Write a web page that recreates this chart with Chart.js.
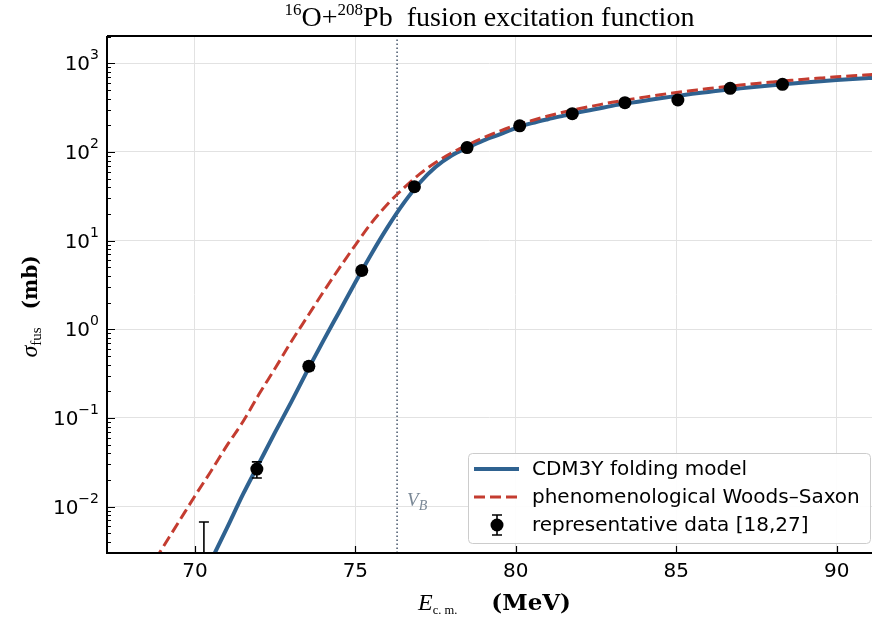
<!DOCTYPE html>
<html lang="en">
<head>
<meta charset="UTF-8">
<title>16O+208Pb fusion excitation function</title>
<script src="https://cdn.jsdelivr.net/npm/chart.js@4.4.1/dist/chart.umd.min.js"></script>
<style>
  body { margin: 0; background: #fff; }
  canvas { display: block; }
</style>
</head>
<body>
<canvas id="fusionChart" width="872" height="622"></canvas>
<script>
  // Curve samples: E_cm (MeV) and sigma_fus (mb)
  const curveE = [68.5, 69.0, 69.5, 70.0, 70.5, 71.0, 71.5, 72.0, 72.5, 73.0, 73.5, 74.0,
    74.5, 75.0, 75.5, 76.0, 76.5, 77.0, 77.5, 78.0, 78.5, 79.0, 79.5, 80.0, 80.5, 81.0,
    81.5, 82.0, 82.5, 83.0, 83.5, 84.0, 84.5, 85.0, 85.5, 86.0, 86.5, 87.0, 87.5, 88.0,
    88.5, 89.0, 89.5, 90.0, 90.5, 91.0, 91.5];

  const cdm3y = [null, null, null, 0.00105, 0.00245, 0.00575, 0.0138, 0.0309, 0.0692, 0.151,
    0.339, 0.741, 1.58, 3.39, 7.08, 14.1, 26.3, 44.7, 67.6, 91.2, 112, 135, 158, 186, 211,
    234, 257, 282, 305, 331, 355, 378, 403, 427, 452, 475, 499, 521, 543, 565, 586, 607,
    627, 646, 664, 681, 698];

  const woodsSaxon = [0.00178, 0.00347, 0.00676, 0.0132, 0.0251, 0.049, 0.0912, 0.186, 0.363,
    0.724, 1.38, 2.63, 4.90, 8.91, 15.8, 25.7, 38.9, 56.2, 75.9, 97.7, 120, 145, 172, 200,
    226, 254, 282, 309, 335, 363, 389, 415, 442, 468, 493, 519, 543, 568, 592, 615, 638,
    661, 682, 703, 723, 741, 759];

  // Representative data [18,27]
  const dataE = [70.28, 71.93, 73.55, 75.2, 76.84, 78.48, 80.12, 81.76, 83.4, 85.05, 86.68, 88.31];
  const dataSigma = [0.0025, 0.0265, 0.383, 4.6, 40.5, 112, 197, 270, 359, 385, 522, 579];
  const dataErr = [0.0042, 0.0055, 0.04, 0.45, 3, 8, 12, 15, 18, 20, 25, 28];

  const barrierE = 76.3;
  const xTicks = [70, 75, 80, 85, 90];
  const yTicks = [0.01, 0.1, 1, 10, 100, 1000];
  const yExponents = ['\u22122', '\u22121', '0', '1', '2', '3'];

  const BLUE = '#2f6290';
  const RED = '#c43c30';

  const toXY = (xs, ys) => xs.map((x, i) => ({ x: x, y: ys[i] }));

  function richText(ctx, parts, x, y, align) {
    let w = 0;
    parts.forEach(p => {
      if (p.gap) { p.w = p.gap; } else { ctx.font = p.font; p.w = ctx.measureText(p.text).width; }
      w += p.w;
    });
    let cx = align === 'center' ? x - w / 2 : (align === 'right' ? x - w : x);
    ctx.textAlign = 'left';
    ctx.textBaseline = 'alphabetic';
    parts.forEach(p => {
      if (!p.gap) { ctx.font = p.font; ctx.fillText(p.text, cx, y + (p.dy || 0)); }
      cx += p.w;
    });
  }

  const decor = {
    id: 'decor',
    afterDatasetsDraw(chart) {
      const ctx = chart.ctx, a = chart.chartArea;
      const xs = chart.scales.x, ys = chart.scales.y;
      ctx.save();
      ctx.beginPath();
      ctx.rect(a.left, a.top, a.right - a.left, a.bottom - a.top);
      ctx.clip();
      ctx.strokeStyle = '#000';
      ctx.lineWidth = 1.6;
      dataE.forEach((e, i) => {
        const px = xs.getPixelForValue(e);
        const hi = ys.getPixelForValue(dataSigma[i] + dataErr[i]);
        const lowV = dataSigma[i] - dataErr[i];
        const lo = lowV > 0 ? ys.getPixelForValue(lowV) : a.bottom + 20;
        ctx.beginPath();
        ctx.moveTo(px, lo); ctx.lineTo(px, hi);
        ctx.moveTo(px - 5, hi); ctx.lineTo(px + 5, hi);
        if (lowV > 0) { ctx.moveTo(px - 5, lo); ctx.lineTo(px + 5, lo); }
        ctx.stroke();
      });
      ctx.restore();
    },
    afterDraw(chart) {
      const ctx = chart.ctx, a = chart.chartArea;
      const xs = chart.scales.x, ys = chart.scales.y;
      ctx.save();

      // V_B label
      ctx.fillStyle = '#7a8896';
      richText(ctx, [
        { text: 'V', font: 'italic 19px "Liberation Serif"' },
        { text: 'B', font: 'italic 14px "Liberation Serif"', dy: 4 }
      ], xs.getPixelForValue(barrierE) + 10, 506, 'left');

      // spines (top, left, bottom)
      ctx.strokeStyle = '#000';
      ctx.lineWidth = 2;
      ctx.beginPath();
      ctx.moveTo(a.left, a.top); ctx.lineTo(a.right, a.top);
      ctx.moveTo(a.left, a.top); ctx.lineTo(a.left, a.bottom);
      ctx.moveTo(a.left - 1, a.bottom); ctx.lineTo(a.right, a.bottom);
      ctx.stroke();

      // inward tick marks
      ctx.lineWidth = 1.2;
      ctx.beginPath();
      xTicks.forEach(v => {
        const px = Math.round(xs.getPixelForValue(v)) + 0.5;
        ctx.moveTo(px, a.bottom); ctx.lineTo(px, a.bottom - 7);
      });
      for (let d = -3; d <= 3; d++) {
        for (let m = 1; m <= 9; m++) {
          const v = m * Math.pow(10, d);
          if (v < ys.min || v > ys.max) continue;
          const py = Math.round(ys.getPixelForValue(v)) + 0.5;
          ctx.moveTo(a.left, py); ctx.lineTo(a.left + (m === 1 ? 8 : 4), py);
        }
      }
      ctx.stroke();

      // y tick labels 10^n
      ctx.fillStyle = '#000';
      yTicks.forEach((v, i) => {
        const py = ys.getPixelForValue(v);
        richText(ctx, [
          { text: '10', font: '20px "DejaVu Sans"' },
          { text: yExponents[i], font: '14px "DejaVu Sans"', dy: -11 }
        ], a.left - 8, py + 7, 'right');
      });

      // title
      richText(ctx, [
        { text: '16', font: '17px "Liberation Serif"', dy: -11 },
        { text: 'O+', font: '28px "Liberation Serif"' },
        { text: '208', font: '17px "Liberation Serif"', dy: -11 },
        { text: 'Pb  fusion excitation function', font: '28px "Liberation Serif"' }
      ], (a.left + a.right) / 2, 26, 'center');

      // x axis label
      richText(ctx, [
        { text: 'E', font: 'italic 24px "Liberation Serif"' },
        { text: 'c. m.', font: '12.5px "Liberation Serif"', dy: 4 },
        { gap: 34 },
        { text: '(MeV)', font: 'bold 23px "DejaVu Serif"' }
      ], (a.left + a.right) / 2 + 5, 610, 'center');

      // y axis label
      ctx.save();
      ctx.translate(37, (a.top + a.bottom) / 2 + 12);
      ctx.rotate(-Math.PI / 2);
      richText(ctx, [
        { text: '\u03c3', font: 'italic 24px "Liberation Serif"' },
        { text: 'fus', font: '15px "Liberation Serif"', dy: 4 },
        { gap: 18 },
        { text: '(mb)', font: 'bold 20px "DejaVu Serif"' }
      ], 0, 0, 'center');
      ctx.restore();

      // legend
      const lx = 468, ly = 453, lw = 402, lh = 90;
      ctx.fillStyle = 'rgba(255,255,255,0.92)';
      ctx.strokeStyle = '#cccccc';
      ctx.lineWidth = 1;
      ctx.beginPath();
      ctx.roundRect(lx + 0.5, ly + 0.5, lw, lh, 4);
      ctx.fill();
      ctx.stroke();
      const rows = [ly + 16, ly + 44, ly + 72];
      const sets = chart.data.datasets.filter(d => d.inLegend);
      sets.forEach((d, i) => {
        const y = rows[i];
        ctx.save();
        if (d.kind === 'line') {
          ctx.strokeStyle = d.borderColor;
          ctx.lineWidth = d.borderWidth;
          ctx.setLineDash(d.borderDash || []);
          ctx.beginPath();
          ctx.moveTo(lx + 6, y); ctx.lineTo(lx + 51, y);
          ctx.stroke();
        } else {
          const cx = lx + 29;
          ctx.strokeStyle = '#000';
          ctx.lineWidth = 1.6;
          ctx.beginPath();
          ctx.moveTo(cx, y - 10); ctx.lineTo(cx, y + 10);
          ctx.moveTo(cx - 5, y - 10); ctx.lineTo(cx + 5, y - 10);
          ctx.moveTo(cx - 5, y + 10); ctx.lineTo(cx + 5, y + 10);
          ctx.stroke();
          ctx.fillStyle = '#000';
          ctx.beginPath();
          ctx.arc(cx, y, 6.5, 0, Math.PI * 2);
          ctx.fill();
        }
        ctx.restore();
        ctx.fillStyle = '#000';
        ctx.font = '20px "DejaVu Sans"';
        ctx.textAlign = 'left';
        ctx.textBaseline = 'middle';
        ctx.fillText(d.label, lx + 64, y + 1);
      });

      ctx.restore();
    }
  };

  new Chart(document.getElementById('fusionChart'), {
    type: 'line',
    data: {
      datasets: [
        {
          label: 'CDM3Y folding model',
          kind: 'line',
          inLegend: true,
          data: toXY(curveE, cdm3y),
          borderColor: BLUE,
          borderWidth: 4,
          pointRadius: 0,
          cubicInterpolationMode: 'monotone',
          order: 2
        },
        {
          label: 'phenomenological Woods\u2013Saxon',
          kind: 'line',
          inLegend: true,
          data: toXY(curveE, woodsSaxon),
          borderColor: RED,
          borderWidth: 3,
          borderDash: [11, 5],
          pointRadius: 0,
          cubicInterpolationMode: 'monotone',
          order: 1
        },
        {
          type: 'scatter',
          label: 'representative data [18,27]',
          kind: 'point',
          inLegend: true,
          data: toXY(dataE, dataSigma),
          backgroundColor: '#000',
          borderWidth: 0,
          pointRadius: 6.5,
          order: 0
        },
        {
          label: 'V_B',
          data: [{ x: barrierE, y: 0.003 }, { x: barrierE, y: 2030 }],
          borderColor: '#46566a',
          borderWidth: 1.5,
          borderDash: [1.5, 2.5],
          pointRadius: 0,
          order: 3
        }
      ]
    },
    options: {
      responsive: false,
      animation: false,
      devicePixelRatio: 1,
      layout: { autoPadding: false, padding: { top: 36, left: 0, right: 0, bottom: 0 } },
      scales: {
        x: {
          type: 'linear',
          min: 67.26,
          max: 91.1,
          afterBuildTicks: s => { s.ticks = xTicks.map(v => ({ value: v })); },
          afterFit: s => { s.height = 69; s.paddingLeft = 0; s.paddingRight = 0; },
          ticks: {
            font: { family: 'DejaVu Sans', size: 20 },
            color: '#000',
            padding: 7,
            maxRotation: 0,
            autoSkip: false
          },
          grid: { color: '#e2e2e2', lineWidth: 1, drawTicks: false },
          border: { display: false }
        },
        y: {
          type: 'logarithmic',
          min: 0.003,
          max: 2030,
          afterBuildTicks: s => { s.ticks = yTicks.map(v => ({ value: v, major: true })); },
          afterFit: s => { s.width = 107; s.paddingTop = 0; s.paddingBottom = 0; },
          ticks: { display: false },
          grid: { color: '#e2e2e2', lineWidth: 1, drawTicks: false },
          border: { display: false }
        }
      },
      plugins: {
        legend: { display: false },
        title: { display: false },
        tooltip: { enabled: false }
      }
    },
    plugins: [decor]
  });
</script>
</body>
</html>
